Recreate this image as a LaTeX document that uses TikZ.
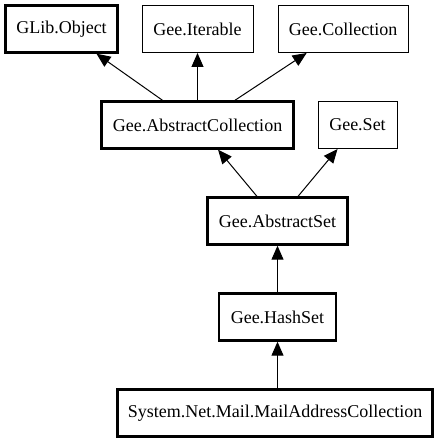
\documentclass[tikz,border=0pt]{standalone}
\usepackage{fontspec}
\setmainfont{Liberation Serif}
\usepackage{tikz}
\usetikzlibrary{arrows.meta}
\tikzset{
    classbox/.style={draw=black,fill=white,line width=1pt,
      minimum height=47pt,inner sep=2pt,
      font=\fontsize{18}{22}\selectfont,align=center},
    basebox/.style={line width=2.4pt},
    inheritarrow/.style={-{Triangle[length=14pt,width=12pt]},draw=black,
      line width=1pt}
}
\begin{document}
\begin{tikzpicture}
  \useasboundingbox (0pt,0pt) rectangle (444pt,-443pt);
  % top row
  \node[classbox,basebox,minimum width=112pt] (obj) at (61.5pt,-29pt) {GLib.Object};
  \node[classbox,minimum width=111pt] (iter) at (197.5pt,-29pt) {Gee.Iterable};
  \node[classbox,minimum width=130pt] (coll) at (343pt,-29pt) {Gee.Collection};
  % second row
  \node[classbox,basebox,minimum width=192pt] (acoll) at (197.5pt,-125pt) {Gee.AbstractCollection};
  \node[classbox,minimum width=79pt] (set) at (357.5pt,-125pt) {Gee.Set};
  % chain down
  \node[classbox,basebox,minimum width=140pt] (aset) at (277.5pt,-221pt) {Gee.AbstractSet};
  \node[classbox,basebox,minimum width=117pt] (hashset) at (277.5pt,-317pt) {Gee.HashSet};
  \node[classbox,basebox,minimum width=315pt] (mail) at (275pt,-413pt) {System.Net.Mail.MailAddressCollection};
  \draw[inheritarrow] (acoll) -- (obj);
  \draw[inheritarrow] (acoll) -- (iter);
  \draw[inheritarrow] (acoll) -- (coll);
  \draw[inheritarrow] (aset) -- (acoll);
  \draw[inheritarrow] (aset) -- (set);
  \draw[inheritarrow] (hashset) -- (aset);
  \draw[inheritarrow] (mail.north -| hashset) -- (hashset);
\end{tikzpicture}
\end{document}
